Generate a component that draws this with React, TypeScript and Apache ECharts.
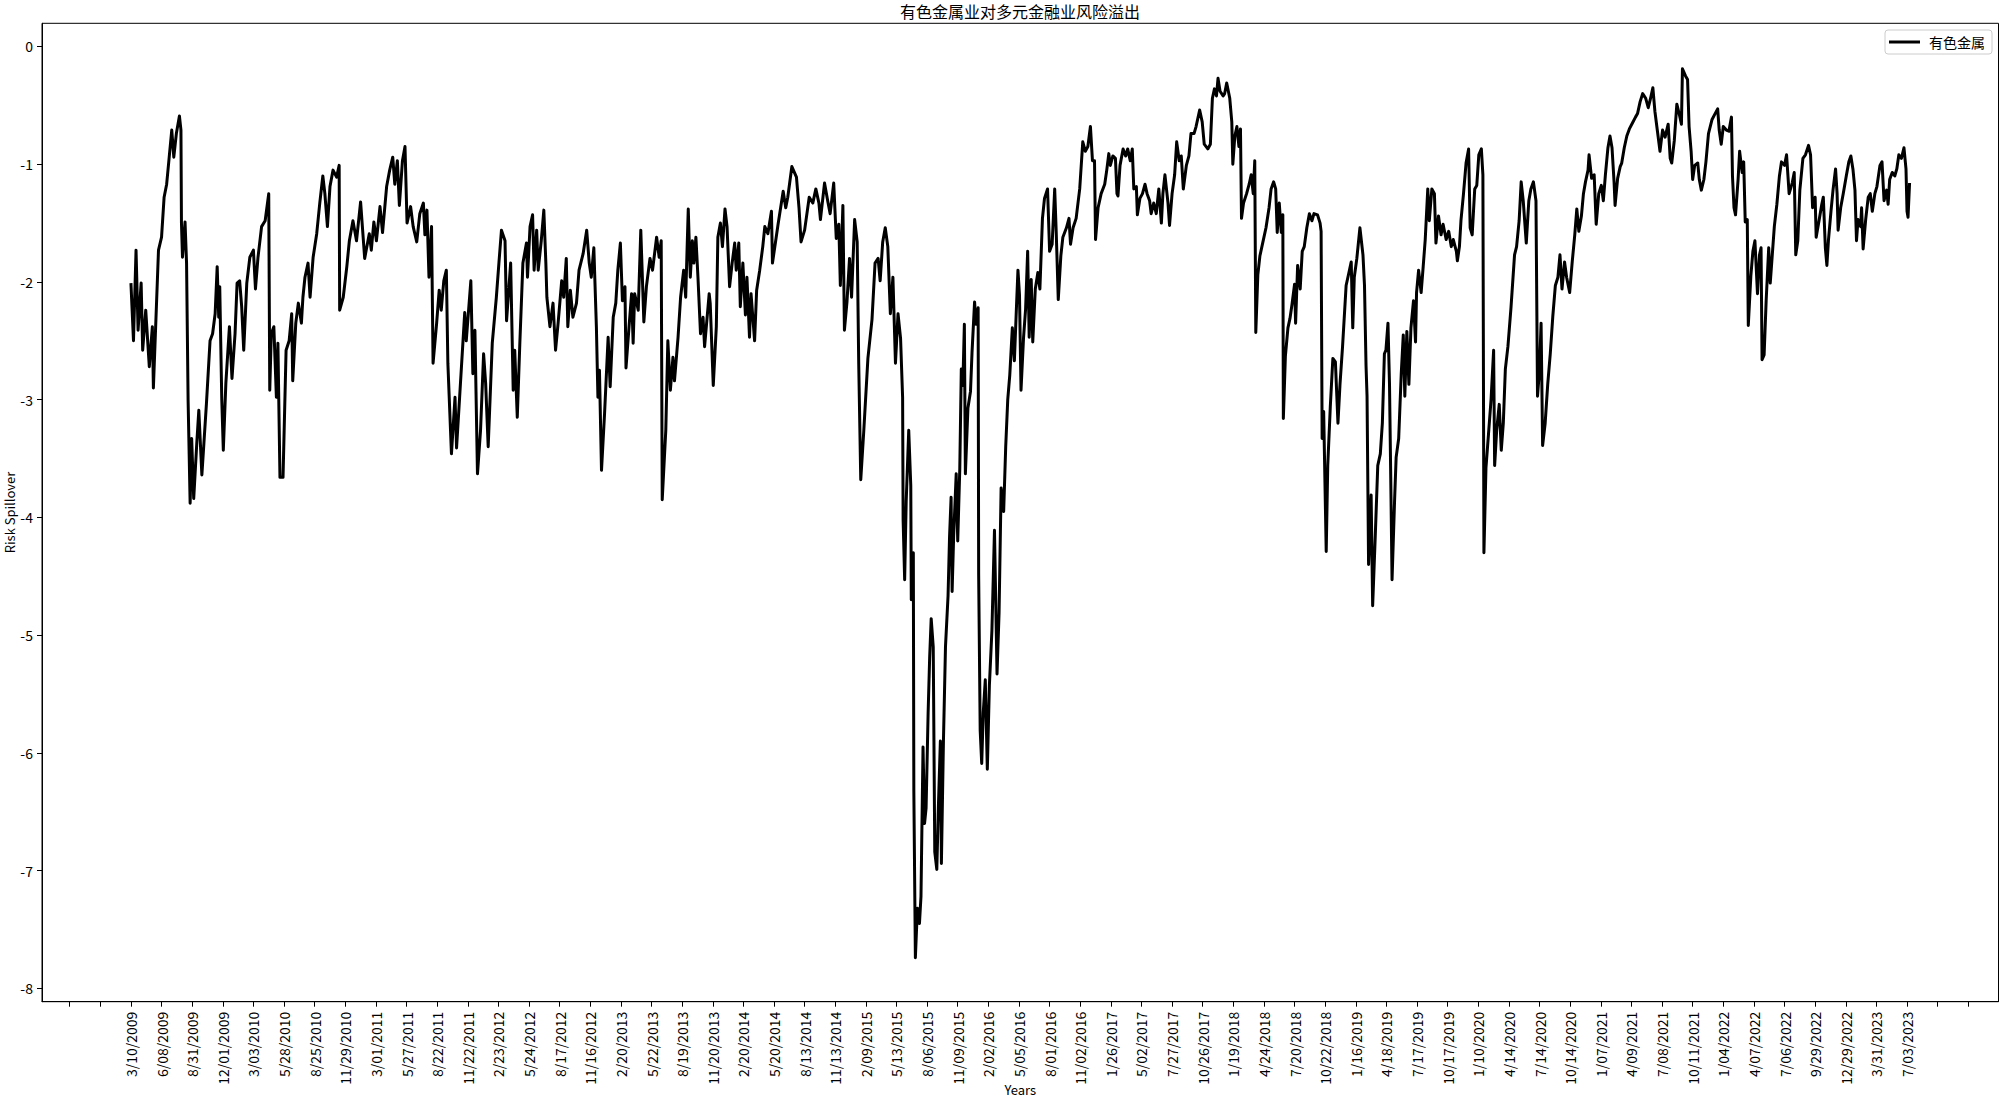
import React, { useEffect, useRef } from "react";
import * as echarts from "echarts";

const chartTitle = "有色金属业对多元金融业风险溢出";
const seriesName = "有色金属";
const xAxisName = "Years";
const yAxisName = "Risk Spillover";

// trading-day index of each labelled tick = position in list * tickStep
const tickStep = 60;
const tickDates = [
  "3/10/2009", "6/08/2009", "8/31/2009", "12/01/2009", "3/03/2010", "5/28/2010", "8/25/2010", "11/29/2010",
  "3/01/2011", "5/27/2011", "8/22/2011", "11/22/2011", "2/23/2012", "5/24/2012", "8/17/2012", "11/16/2012",
  "2/20/2013", "5/22/2013", "8/19/2013", "11/20/2013", "2/20/2014", "5/20/2014", "8/13/2014", "11/13/2014",
  "2/09/2015", "5/13/2015", "8/06/2015", "11/09/2015", "2/02/2016", "5/05/2016", "8/01/2016", "11/02/2016",
  "1/26/2017", "5/02/2017", "7/27/2017", "10/26/2017", "1/19/2018", "4/24/2018", "7/20/2018", "10/22/2018",
  "1/16/2019", "4/18/2019", "7/17/2019", "10/17/2019", "1/10/2020", "4/14/2020", "7/14/2020", "10/14/2020",
  "1/07/2021", "4/09/2021", "7/08/2021", "10/11/2021", "1/04/2022", "4/07/2022", "7/06/2022", "9/29/2022",
  "12/29/2022", "3/31/2023", "7/03/2023",
];
const yTickValues = [-8, -7, -6, -5, -4, -3, -2, -1, 0];

// [trading-day index, risk spillover]
const spilloverByDay: [number, number][] = [
  [0,-2.01],[5,-2.50],[10,-1.73],[14,-2.41],[20,-2.01],[23,-2.58],[29,-2.24],[36,-2.72],[42,-2.38],[44,-2.90],[54,-1.73],[60,-1.62],[65,-1.28],[70,-1.17],[75,-0.94],[80,-0.71],[84,-0.94],[89,-0.74],[95,-0.59],[98,-0.71],[99,-1.50],[101,-1.79],[106,-1.49],[109,-1.84],[112,-3.00],[116,-3.88],[119,-3.33],[123,-3.84],[129,-3.37],[133,-3.09],[139,-3.64],[143,-3.37],[148,-3.03],[155,-2.50],[160,-2.44],[165,-2.27],[169,-1.87],[172,-2.30],[174,-2.04],[178,-3.00],[181,-3.43],[186,-2.86],[193,-2.38],[198,-2.82],[204,-2.44],[208,-2.01],[213,-1.99],[217,-2.21],[221,-2.58],[227,-2.01],[233,-1.79],[240,-1.73],[244,-2.06],[249,-1.79],[256,-1.53],[263,-1.48],[270,-1.25],[272,-2.92],[275,-2.44],[280,-2.38],[285,-2.98],[288,-2.52],[292,-3.66],[298,-3.66],[304,-2.58],[310,-2.50],[315,-2.27],[317,-2.84],[323,-2.35],[328,-2.18],[334,-2.35],[337,-2.13],[341,-1.96],[347,-1.84],[351,-2.13],[357,-1.79],[364,-1.59],[370,-1.33],[376,-1.10],[380,-1.25],[385,-1.53],[390,-1.19],[396,-1.05],[403,-1.11],[408,-1.01],[409,-2.24],[416,-2.13],[423,-1.87],[428,-1.65],[435,-1.48],[442,-1.65],[450,-1.32],[458,-1.80],[467,-1.59],[471,-1.73],[476,-1.49],[481,-1.65],[488,-1.36],[493,-1.58],[501,-1.19],[507,-1.05],[513,-0.94],[517,-1.17],[522,-0.97],[526,-1.35],[532,-0.97],[537,-0.85],[541,-1.50],[548,-1.36],[553,-1.53],[560,-1.66],[566,-1.42],[573,-1.33],[576,-1.60],[580,-1.39],[584,-1.96],[589,-1.53],[592,-2.69],[599,-2.35],[604,-2.07],[608,-2.24],[613,-1.99],[618,-1.90],
  [621,-2.69],[628,-3.46],[635,-2.98],[638,-3.41],[644,-2.98],[654,-2.26],[657,-2.50],[666,-1.99],[670,-2.78],[674,-2.41],[679,-3.63],[685,-3.26],[691,-2.61],[695,-2.86],[700,-3.40],[708,-2.52],[716,-2.13],[721,-1.84],[726,-1.56],[733,-1.65],[736,-2.33],[744,-1.84],[749,-2.92],[752,-2.58],[757,-3.15],[762,-2.52],[768,-1.84],[775,-1.67],[777,-1.96],[782,-1.53],[787,-1.43],[790,-1.90],[795,-1.56],[798,-1.90],[804,-1.65],[809,-1.39],[813,-1.84],[815,-2.13],[821,-2.38],[827,-2.18],[832,-2.58],[837,-2.35],[844,-1.99],[848,-2.13],[853,-1.80],[856,-2.38],[861,-2.07],[866,-2.30],[873,-2.18],[878,-1.90],[886,-1.76],[893,-1.56],[898,-1.84],[902,-1.96],[907,-1.71],[912,-2.38],[915,-2.98],[918,-2.75],[922,-3.60],[928,-3.12],[935,-2.47],[939,-2.89],[945,-2.30],[950,-2.18],[954,-1.90],[959,-1.67],[963,-2.16],[968,-2.04],[970,-2.73],[976,-2.38],[981,-2.10],[984,-2.52],[987,-2.10],[994,-2.24],[999,-1.56],[1005,-2.34],[1010,-2.04],[1017,-1.80],[1022,-1.90],[1030,-1.62],[1035,-1.79],[1039,-1.65],[1041,-3.85],[1048,-3.26],[1052,-2.50],[1057,-2.92],[1062,-2.64],[1065,-2.84],[1072,-2.47],[1077,-2.13],[1083,-1.90],[1087,-2.13],[1092,-1.38],[1096,-1.96],[1100,-1.65],[1103,-1.84],[1107,-1.62],[1111,-1.96],[1116,-2.44],[1121,-2.30],[1124,-2.55],[1133,-2.10],[1135,-2.18],[1141,-2.88],[1147,-2.38],[1150,-1.62],[1155,-1.50],[1159,-1.70],[1164,-1.38],[1168,-1.53],[1173,-2.04],[1178,-1.84],[1183,-1.67],[1186,-1.90],[1191,-1.67],[1194,-2.21],[1199,-1.84],[1204,-2.28],[1207,-1.96],[1212,-2.47],[1215,-2.10],[1222,-2.50],[1226,-2.07],[1232,-1.90],[1238,-1.70],[1242,-1.53],[1248,-1.59],
  [1255,-1.40],[1257,-1.84],[1268,-1.51],[1278,-1.23],[1283,-1.37],[1287,-1.28],[1295,-1.02],[1304,-1.11],[1309,-1.37],[1313,-1.66],[1320,-1.56],[1329,-1.28],[1336,-1.33],[1342,-1.21],[1348,-1.33],[1351,-1.47],[1359,-1.16],[1366,-1.33],[1370,-1.42],[1377,-1.16],[1382,-1.63],[1387,-1.51],[1390,-2.03],[1395,-1.35],[1398,-2.41],[1403,-2.17],[1408,-1.80],[1412,-2.13],[1418,-1.47],[1423,-1.66],[1426,-2.69],[1430,-3.68],[1436,-3.26],[1444,-2.65],[1452,-2.32],[1458,-1.84],[1464,-1.80],[1468,-1.99],[1473,-1.66],[1478,-1.54],[1483,-1.70],[1488,-2.27],[1493,-1.96],[1498,-2.69],[1503,-2.27],[1508,-2.48],[1512,-2.98],[1513,-4.02],[1516,-4.53],[1519,-3.87],[1524,-3.26],[1528,-3.73],[1529,-4.70],[1533,-4.30],[1534,-6.32],[1537,-7.74],[1541,-7.32],[1545,-7.45],[1548,-7.22],[1552,-5.95],[1555,-6.60],[1558,-6.47],[1562,-5.66],[1565,-5.19],[1568,-4.86],[1572,-5.10],[1575,-6.84],[1579,-6.99],[1582,-6.47],[1586,-5.90],[1588,-6.94],[1592,-5.90],[1596,-5.10],[1601,-4.67],[1604,-4.16],[1607,-3.83],[1609,-4.63],[1612,-4.16],[1617,-3.63],[1620,-4.20],[1624,-3.59],[1627,-2.74],[1630,-2.88],[1633,-2.36],[1635,-3.63],[1640,-3.07],[1645,-2.93],[1648,-2.60],[1653,-2.17],[1656,-2.36],[1660,-2.22],[1661,-4.48],[1664,-5.81],[1667,-6.09],[1670,-5.66],[1674,-5.38],[1678,-6.14],[1682,-5.43],[1687,-4.96],[1692,-4.11],[1697,-5.33],[1701,-4.81],[1705,-3.75],[1710,-3.95],[1714,-3.40],[1718,-3.00],
  [1722,-2.79],[1727,-2.39],[1731,-2.67],[1735,-2.22],[1738,-1.90],[1741,-2.11],[1744,-2.92],[1749,-2.47],[1753,-2.23],[1757,-1.74],[1760,-2.47],[1764,-1.98],[1767,-2.51],[1772,-2.06],[1777,-1.92],[1781,-2.06],[1786,-1.46],[1790,-1.29],[1796,-1.21],[1800,-1.74],[1805,-1.68],[1810,-1.21],[1813,-1.58],[1817,-2.15],[1822,-1.78],[1826,-1.62],[1833,-1.54],[1838,-1.46],[1841,-1.68],[1846,-1.54],[1852,-1.46],[1859,-1.21],[1865,-0.81],[1870,-0.89],[1875,-0.85],[1880,-0.68],[1884,-0.97],[1888,-0.97],[1890,-1.64],[1895,-1.37],[1901,-1.25],[1908,-1.17],[1912,-1.05],[1916,-0.91],[1919,-1.01],[1924,-0.93],[1929,-0.95],[1932,-1.25],[1934,-1.27],[1938,-1.01],[1944,-0.87],[1949,-0.93],[1953,-0.87],[1958,-0.97],[1962,-0.87],[1965,-1.21],[1970,-1.19],[1972,-1.43],[1977,-1.29],[1982,-1.25],[1987,-1.17],[1991,-1.25],[1996,-1.31],[1999,-1.42],[2004,-1.33],[2009,-1.42],[2014,-1.21],[2019,-1.50],[2022,-1.25],[2026,-1.09],[2032,-1.33],[2035,-1.52],[2040,-1.25],[2045,-1.09],[2049,-0.81],[2054,-0.97],[2058,-0.93],[2062,-1.21],[2068,-1.01],[2073,-0.93],[2077,-0.74],[2083,-0.74],[2087,-0.68],[2094,-0.54],[2099,-0.64],[2103,-0.83],[2110,-0.87],[2115,-0.83],[2119,-0.44],[2123,-0.36],[2127,-0.42],[2130,-0.27],[2134,-0.38],[2140,-0.42],[2143,-0.40],[2147,-0.31],[2153,-0.44],[2157,-0.64],[2159,-1.00],[2163,-0.76],[2167,-0.68],[2171,-0.85],[2174,-0.70],[2176,-1.46],[2180,-1.33],[2186,-1.25],[2191,-1.17],[2195,-1.09],[2199,-1.25],[2202,-0.97],[2204,-2.43],[2208,-1.94],[2212,-1.78],[2218,-1.66],[2224,-1.54],[2230,-1.37],[2234,-1.21],[2239,-1.15],[2243,-1.21],[2246,-1.58],[2250,-1.33],[2254,-1.58],[2257,-1.43],[2258,-3.16],[2262,-2.63],[2267,-2.39],[2271,-2.31],[2275,-2.19],[2280,-2.02],[2282,-2.35],[2286,-1.86],[2291,-2.06],[2295,-1.74],[2299,-1.70],[2304,-1.54],[2309,-1.42],[2314,-1.48],[2318,-1.42],[2325,-1.43],[2330,-1.50],[2332,-1.57],
  [2334,-3.33],[2337,-3.10],[2342,-4.29],[2345,-3.56],[2350,-3.06],[2355,-2.65],[2360,-2.68],[2365,-3.20],[2369,-2.87],[2374,-2.55],[2381,-2.03],[2386,-1.93],[2391,-1.83],[2394,-2.39],[2397,-1.96],[2402,-1.80],[2408,-1.54],[2414,-1.77],[2417,-2.03],[2420,-2.71],[2422,-2.97],[2425,-4.40],[2430,-3.81],[2433,-4.75],[2438,-4.17],[2443,-3.56],[2448,-3.46],[2452,-3.20],[2456,-2.61],[2459,-2.58],[2463,-2.35],[2466,-2.87],[2469,-3.85],[2471,-4.53],[2476,-3.85],[2479,-3.49],[2484,-3.33],[2489,-2.78],[2493,-2.45],[2496,-2.97],[2500,-2.42],[2504,-2.87],[2508,-2.39],[2513,-2.16],[2517,-2.51],[2519,-2.09],[2523,-1.90],[2528,-2.09],[2532,-1.87],[2536,-1.64],[2541,-1.21],[2544,-1.48],[2549,-1.21],[2554,-1.25],[2557,-1.67],[2562,-1.44],[2567,-1.60],[2571,-1.51],[2577,-1.64],[2582,-1.57],[2587,-1.70],[2591,-1.64],[2597,-1.74],[2599,-1.82],[2603,-1.70],[2606,-1.48],[2611,-1.25],[2616,-0.99],[2621,-0.87],[2624,-1.54],[2628,-1.60],[2633,-1.21],[2637,-1.18],[2641,-0.92],[2646,-0.87],[2649,-1.09],[2651,-4.30],[2655,-3.58],[2660,-3.29],[2665,-3.00],[2670,-2.58],[2672,-3.56],[2676,-3.26],[2681,-3.04],[2685,-3.43],[2689,-3.20],[2693,-2.74],[2698,-2.55],[2704,-2.22],[2711,-1.77],[2715,-1.70],[2720,-1.48],[2724,-1.15],[2728,-1.31],[2734,-1.67],[2739,-1.31],[2743,-1.21],[2748,-1.15],[2753,-1.31],[2756,-2.97],[2760,-2.74],[2763,-2.35],[2766,-3.39],[2771,-3.20],[2776,-2.87],[2781,-2.61],[2786,-2.29],[2791,-2.03],[2796,-1.96],[2800,-1.77],[2804,-2.06],[2809,-1.83],[2813,-1.96],[2819,-2.09],[2824,-1.83],[2829,-1.60],[2833,-1.38],[2837,-1.57],[2842,-1.44],[2846,-1.25],[2850,-1.15],[2855,-1.05],[2857,-0.92],[2862,-1.12],[2867,-1.09],[2871,-1.51],[2876,-1.25],[2881,-1.18],[2885,-1.31],[2889,-1.09],[2894,-0.86],[2898,-0.76],[2902,-0.86],[2906,-1.15],[2908,-1.35],[2913,-1.12],[2918,-1.02],[2921,-0.99],[2926,-0.86],[2931,-0.76],[2936,-0.70],[2942,-0.65],[2948,-0.60],[2952,-0.57],[2957,-0.47],[2962,-0.40],[2968,-0.44],[2973,-0.52],[2977,-0.45],[2982,-0.35],[2986,-0.55],[2991,-0.72],[2996,-0.89],
  [3001,-0.71],[3006,-0.77],[3012,-0.66],[3016,-0.95],[3019,-0.99],[3024,-0.80],[3029,-0.49],[3034,-0.58],[3038,-0.66],[3040,-0.19],[3046,-0.25],[3050,-0.28],[3053,-0.68],[3057,-0.89],[3060,-1.13],[3064,-1.01],[3070,-0.99],[3073,-1.13],[3077,-1.22],[3082,-1.13],[3086,-0.98],[3091,-0.74],[3098,-0.62],[3104,-0.57],[3109,-0.53],[3112,-0.71],[3116,-0.83],[3120,-0.68],[3126,-0.71],[3131,-0.72],[3136,-0.60],[3138,-1.10],[3141,-1.37],[3144,-1.43],[3149,-1.13],[3152,-0.89],[3157,-1.07],[3160,-0.98],[3163,-1.49],[3167,-1.47],[3169,-2.37],[3174,-1.95],[3178,-1.74],[3182,-1.65],[3187,-2.10],[3191,-1.77],[3194,-1.71],[3196,-2.66],[3200,-2.62],[3204,-2.16],[3209,-1.71],[3212,-2.01],[3216,-1.77],[3220,-1.53],[3225,-1.34],[3230,-1.10],[3234,-0.98],[3240,-1.01],[3244,-0.92],[3249,-1.25],[3255,-1.16],[3259,-1.07],[3262,-1.77],[3266,-1.65],[3270,-1.22],[3276,-0.95],[3281,-0.92],[3287,-0.84],[3291,-0.92],[3295,-1.37],[3300,-1.28],[3302,-1.62],[3308,-1.47],[3313,-1.34],[3316,-1.28],[3320,-1.71],[3323,-1.86],[3326,-1.65],[3331,-1.40],[3335,-1.22],[3340,-1.04],[3343,-1.25],[3345,-1.56],[3350,-1.37],[3355,-1.25],[3361,-1.10],[3366,-0.98],[3370,-0.93],[3374,-1.04],[3378,-1.22],[3381,-1.65],[3384,-1.47],[3389,-1.53],[3391,-1.37],[3394,-1.72],[3399,-1.47],[3404,-1.28],[3408,-1.25],[3412,-1.40],[3417,-1.25],[3421,-1.19],[3427,-1.01],[3431,-0.98],[3435,-1.31],[3440,-1.22],[3443,-1.34],[3446,-1.13],[3451,-1.07],[3456,-1.10],[3460,-1.04],[3464,-0.92],[3469,-0.95],[3474,-0.86],[3478,-1.04],[3480,-1.40],[3482,-1.45],[3485,-1.16],
];

export default function App() {
  const ref = useRef<HTMLDivElement>(null);

  useEffect(() => {
    if (!ref.current) return;
    const chart = echarts.init(ref.current, null, { renderer: "svg" });
    const font = "'Noto Sans CJK SC', 'Noto Sans', sans-serif";
    const labelValues = tickDates.map((_, k) => k * tickStep);
    const lastLabel = labelValues[labelValues.length - 1];
    const tickValues = [-2 * tickStep, -tickStep, ...labelValues, lastLabel + tickStep, lastLabel + 2 * tickStep];
    const lastDay = spilloverByDay[spilloverByDay.length - 1][0];
    const pad = lastDay * 0.05;

    chart.setOption({
      animation: false,
      backgroundColor: "#ffffff",
      title: {
        text: chartTitle,
        left: 1020,
        top: 2,
        textAlign: "center",
        padding: 0,
        textStyle: { fontSize: 16, fontWeight: "normal", color: "#000", fontFamily: font, lineHeight: 17 },
      },
      legend: {
        data: [{ name: seriesName, icon: "rect" }],
        right: 8,
        top: 30,
        itemWidth: 31,
        itemHeight: 3,
        padding: [5, 7, 5, 4],
        borderColor: "#cccccc",
        borderWidth: 1,
        borderRadius: 3,
        backgroundColor: "rgba(255,255,255,0.8)",
        itemStyle: { color: "#000", borderWidth: 0 },
        textStyle: { fontSize: 14, color: "#000", fontFamily: font, padding: [0, 0, 0, 4], lineHeight: 14 },
      },
      grid: {
        left: 42,
        top: 23.3,
        width: 1956.5,
        height: 978.4,
        show: true,
        borderColor: "#000",
        borderWidth: 1,
        backgroundColor: "transparent",
        containLabel: false,
        outerBoundsMode: "none",
      },
      xAxis: {
        type: "value",
        min: -pad,
        max: lastDay + pad,
        name: xAxisName,
        nameLocation: "middle",
        nameGap: 81,
        nameMoveOverlap: false,
        nameTextStyle: { fontSize: 13, color: "#000", fontFamily: font, lineHeight: 13 },
        axisLine: { show: true, onZero: false, lineStyle: { color: "#000", width: 1 } },
        axisTick: { show: true, inside: false, length: 5, customValues: tickValues, lineStyle: { color: "#000", width: 1 } },
        axisLabel: {
          customValues: labelValues,
          rotate: 90,
          margin: 10,
          fontSize: 14,
          color: "#000",
          fontFamily: font,
          formatter: (v: number) => tickDates[Math.round(v / tickStep)] ?? "",
        },
        splitLine: { show: false },
      },
      yAxis: {
        type: "value",
        min: -8.114,
        max: 0.197,
        name: yAxisName,
        nameLocation: "middle",
        nameRotate: 90,
        nameGap: 26,
        nameMoveOverlap: false,
        nameTextStyle: { fontSize: 13, color: "#000", fontFamily: font, lineHeight: 13 },
        axisLine: { show: true, onZero: false, lineStyle: { color: "#000", width: 1 } },
        axisTick: { show: true, inside: false, length: 5, customValues: yTickValues, lineStyle: { color: "#000", width: 1 } },
        axisLabel: {
          customValues: yTickValues,
          margin: 9,
          fontSize: 14,
          color: "#000",
          fontFamily: font,
          formatter: (v: number) => String(v),
        },
        splitLine: { show: false },
      },
      series: [
        {
          name: seriesName,
          type: "line",
          data: spilloverByDay,
          symbol: "none",
          showSymbol: false,
          smooth: false,
          itemStyle: { color: "#000" },
          lineStyle: { color: "#000", width: 3, join: "round", cap: "butt" },
          silent: true,
        },
      ],
    });

    return () => chart.dispose();
  }, []);

  return <div ref={ref} style={{ position: "absolute", left: 0, top: 0, width: 2000, height: 1098 }} />;
}
